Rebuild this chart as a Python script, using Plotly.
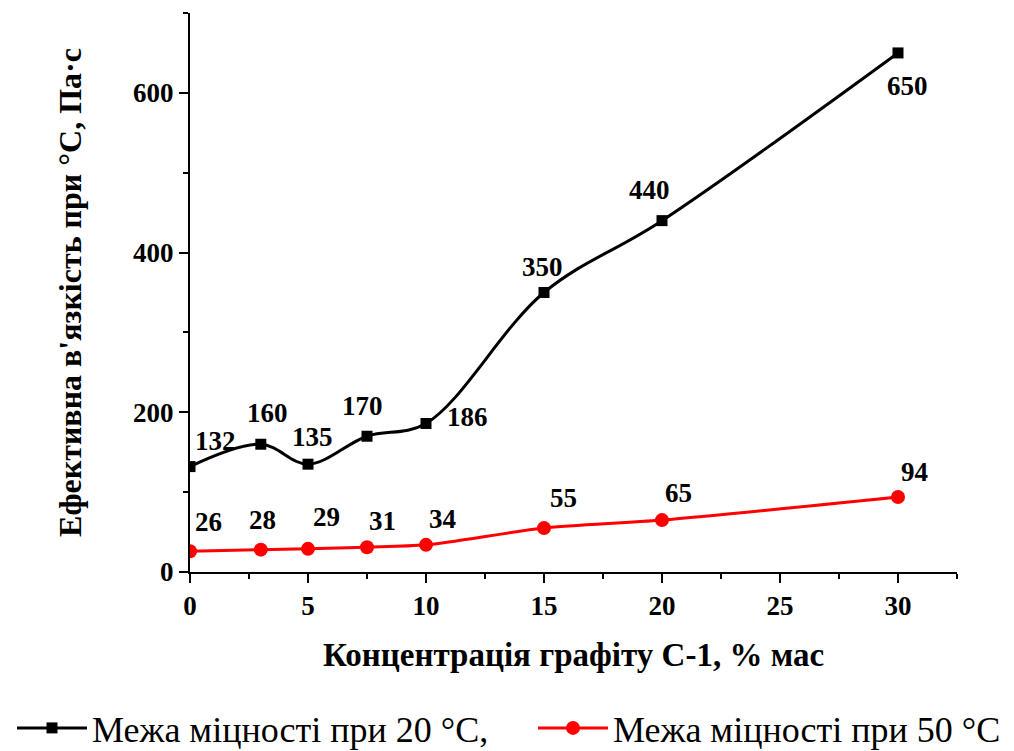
import plotly.graph_objects as go

# Data
conc = [0, 3, 5, 7.5, 10, 15, 20, 30]
visc_20 = [132, 160, 135, 170, 186, 350, 440, 650]
visc_50 = [26, 28, 29, 31, 34, 55, 65, 94]
name_20 = "Межа міцності при 20 °C,"
name_50 = "Межа міцності при 50 °C"
x_title = "Концентрація графіту С-1, % мас"
y_title = "Ефективна в'язкість при °С, Па·с"

# label offsets in pixels (style only)
off_20 = [(25, 26), (7, 31), (4, 27), (-5, 30), (41, 6), (-2, 26), (-13, 31), (9, -33)]
off_50 = [(18, 29), (2, 30), (18, 32), (15, 26), (16, 26), (19, 30), (16, 27), (16, 25)]

FONT = "Liberation Serif"
W, H = 1006, 743  # page body has an 8px margin

fig = go.Figure()
fig.add_trace(go.Scatter(
    x=conc, y=visc_20, mode="lines+markers", name=name_20, legend="legend",
    line=dict(color="black", width=3, shape="spline", smoothing=1.0),
    marker=dict(symbol="square", size=11, color="black"),
))
fig.add_trace(go.Scatter(
    x=conc, y=visc_50, mode="lines+markers", name=name_50, legend="legend2",
    line=dict(color="#ff0000", width=3, shape="spline", smoothing=0.8),
    marker=dict(symbol="circle", size=14, color="#ff0000"),
))

annots = []
for xs, ys, offs in ((conc, visc_20, off_20), (conc, visc_50, off_50)):
    for xv, yv, (dx, dy) in zip(xs, ys, offs):
        annots.append(dict(
            x=xv, y=yv, xref="x", yref="y", text=str(yv), showarrow=False,
            xshift=dx, yshift=dy,
            font=dict(family=FONT, size=27, color="black", weight="bold"),
        ))

tickfont = dict(family=FONT, size=27, color="black", weight="bold")

axis_common = dict(
    showline=True, linecolor="black", linewidth=2, mirror=False,
    ticks="outside", tickcolor="black", tickwidth=2, ticklen=9,
    showgrid=False, zeroline=False, automargin=True,
    tickfont=tickfont,
)

legend_common = dict(
    orientation="h", xref="container", yref="container",
    y=23 / H, yanchor="middle", xanchor="left",
    font=dict(family=FONT, size=36, color="black"),
    itemwidth=70, bgcolor="rgba(0,0,0,0)",
)

fig.update_layout(
    width=W, height=H,
    margin=dict(l=182, r=57, t=5, b=179, autoexpand=False),
    paper_bgcolor="white", plot_bgcolor="white",
    font=dict(family=FONT, color="black"),
    annotations=annots,
    showlegend=True,
    legend=dict(x=4 / W, **legend_common),
    legend2=dict(x=525 / W, **legend_common),
    xaxis=dict(
        range=[0, 32.5], tick0=0, dtick=5,
        minor=dict(ticks="outside", dtick=2.5, ticklen=5, tickwidth=2, tickcolor="black"),
        title=dict(text=x_title, font=dict(family=FONT, size=33, color="black", weight="bold"), standoff=22),
        **axis_common,
    ),
    yaxis=dict(
        range=[0, 700], tick0=0, dtick=200,
        minor=dict(ticks="outside", dtick=100, ticklen=5, tickwidth=2, tickcolor="black"),
        title=dict(text=y_title, font=dict(family=FONT, size=32, color="black", weight="bold"), standoff=42),
        **axis_common,
    ),
)

fig.write_html("out.html")
